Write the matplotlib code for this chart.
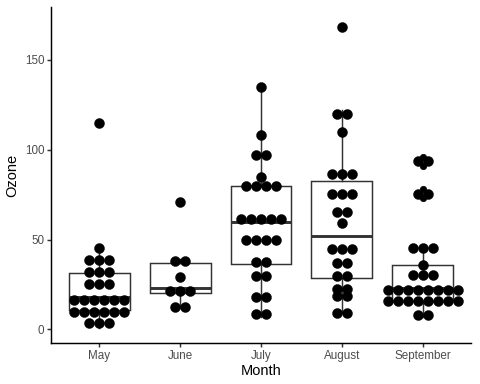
import numpy as np
import matplotlib
matplotlib.use('Agg')
import matplotlib.pyplot as plt

plt.rcParams['font.family'] = ['Liberation Sans', 'DejaVu Sans']

# airquality Ozone by month (NA removed)
months = ['May', 'June', 'July', 'August', 'September']
ozone_may = [41, 36, 12, 18, 28, 23, 19, 8, 7, 16, 11, 14, 18, 14, 34, 6, 30,
             11, 1, 11, 4, 32, 23, 45, 115, 37]
ozone_jun = [29, 71, 39, 23, 21, 37, 20, 12, 13]
ozone_jul = [135, 49, 32, 64, 40, 77, 97, 97, 85, 10, 27, 7, 48, 35, 61, 79,
             63, 16, 80, 108, 20, 52, 82, 50, 64, 59]
ozone_aug = [39, 9, 16, 78, 35, 66, 122, 89, 110, 44, 28, 65, 22, 59, 23, 31,
             44, 21, 9, 45, 168, 73, 76, 118, 84, 85]
ozone_sep = [96, 78, 73, 91, 47, 32, 20, 23, 21, 24, 44, 21, 28, 9, 13, 46,
             18, 13, 24, 16, 13, 23, 36, 7, 14, 30, 14, 18, 20]
groups = [ozone_may, ozone_jun, ozone_jul, ozone_aug, ozone_sep]
y_ticks = [0, 50, 100, 150]


def densitybin(x, binwidth):
    # same scan as ggplot's dotdensity method
    x = np.sort(np.asarray(x, dtype=float))
    bins = []
    cur = []
    binend = -np.inf
    for v in x:
        if v >= binend:
            if cur:
                bins.append(cur)
            cur = []
            binend = v + binwidth
        cur.append(v)
    bins.append(cur)
    return [((min(b) + max(b)) / 2, len(b)) for b in bins]


dpi = 100
fig = plt.figure(figsize=(4.8, 3.84), dpi=dpi)
left, right, bottom, top = 51, 471, 343, 7
ax = fig.add_axes([left / 480, 1 - bottom / 384, (right - left) / 480, (bottom - top) / 384])

xlim = (0.4, 5.6)
ylim = (-7.6, 179.4)
ax.set_xlim(*xlim)
ax.set_ylim(*ylim)

pos = np.arange(1, len(months) + 1)
line_c = '#333333'
ax.boxplot(groups, positions=pos, widths=0.75, whis=1.5, patch_artist=True,
           showcaps=False,
           boxprops=dict(facecolor='white', edgecolor=line_c, linewidth=1.05),
           whiskerprops=dict(color=line_c, linewidth=1.05),
           medianprops=dict(color=line_c, linewidth=2.1),
           flierprops=dict(marker='o', markerfacecolor='black', markeredgecolor='black',
                           markersize=4.6, markeredgewidth=0.5),
           zorder=2)

# dotplot on top
all_vals = np.concatenate([np.asarray(g) for g in groups])
binwidth = (all_vals.max() - all_vals.min()) / 30
ax_h = bottom - top
ax_w = right - left
diam_px = binwidth * ax_h / (ylim[1] - ylim[0])
dx = diam_px / ax_w * (xlim[1] - xlim[0])
diam_pt = diam_px * 72 / dpi
for p, g in zip(pos, groups):
    xs, ys = [], []
    for center, n in densitybin(g, binwidth):
        for i in range(n):
            xs.append(p + (i - (n - 1) / 2) * dx)
            ys.append(center)
    ax.scatter(xs, ys, s=diam_pt ** 2, c='black', edgecolors='black',
               linewidths=0.3, zorder=3, clip_on=False)

ax.set_xticks(pos)
ax.set_xticklabels(months)
ax.set_yticks(y_ticks)
for s in ['top', 'right']:
    ax.spines[s].set_visible(False)
for s in ['left', 'bottom']:
    ax.spines[s].set_linewidth(1.05)
    ax.spines[s].set_color('black')
ax.tick_params(axis='both', length=2.7, width=1.05, color=line_c,
               labelsize=8.4, labelcolor='#4D4D4D', pad=2)
ax.set_xlabel('Month', fontsize=10.5, labelpad=2)
ax.set_ylabel('Ozone', fontsize=10.5, labelpad=4)

fig.savefig('out.png', dpi=dpi)
